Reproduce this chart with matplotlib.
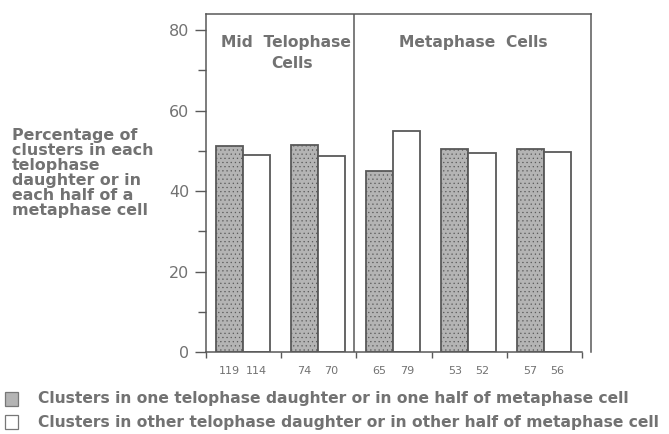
import matplotlib.pyplot as plt
from matplotlib.patches import Rectangle
import numpy as np

# percentages per pair (one half / other half) and the cell counts under each bar
pct_one = [51.1, 51.4, 45.1, 50.5, 50.4]
pct_other = [48.9, 48.6, 54.9, 49.5, 49.6]
n_one = ["119", "74", "65", "53", "57"]
n_other = ["114", "70", "79", "52", "56"]

section_labels = ["Mid  Telophase", "Cells", "Metaphase  Cells"]
ylabel_text = ("Percentage of\nclusters in each\ntelophase\n"
               "daughter or in\neach half of a\nmetaphase cell")
legend_labels = [
    "Clusters in one telophase daughter or in one half of metaphase cell",
    "Clusters in other telophase daughter or in other half of metaphase cell",
]

ink = "#727272"
edge = "#595959"
gray_fill = "#b4b4b4"

plt.rcParams["font.family"] = "DejaVu Sans"
plt.rcParams["hatch.linewidth"] = 0.4
plt.rcParams["hatch.color"] = "#8c8c8c"

fig = plt.figure(figsize=(6.69, 4.34), dpi=100)
ax = fig.add_axes([206 / 669, 1 - 352 / 434, 385 / 669, 338 / 434])

x = np.arange(len(pct_one))
w = 0.36
x_one = x + 0.13
x_other = x_one + w

ax.bar(x_one, pct_one, width=w, align="edge", color=gray_fill,
       edgecolor=edge, linewidth=1.3, hatch="....", zorder=2)
ax.bar(x_other, pct_other, width=w, align="edge", color="white",
       edgecolor=edge, linewidth=1.3, zorder=2)

# counts below the bars
for xo, xt, a, b in zip(x_one, x_other, n_one, n_other):
    ax.text(xo + w / 2, -0.055, a, transform=ax.get_xaxis_transform(),
            ha="center", va="center", fontsize=8, color=ink)
    ax.text(xt + w / 2, -0.055, b, transform=ax.get_xaxis_transform(),
            ha="center", va="center", fontsize=8, color=ink)

# divider between telophase and metaphase groups
ax.axvline(1.97, color=edge, linewidth=1.1, zorder=1)

ax.text(1.06, 76.8, section_labels[0], ha="center", va="center",
        fontsize=11.2, fontweight="bold", color=ink)
ax.text(1.15, 71.8, section_labels[1], ha="center", va="center",
        fontsize=11.2, fontweight="bold", color=ink)
ax.text(3.56, 76.8, section_labels[2], ha="center", va="center",
        fontsize=11.2, fontweight="bold", color=ink)

ax.set_xlim(0, 5.12)
ax.set_ylim(0, 84)
ax.set_yticks([0, 20, 40, 60, 80])
ax.set_yticks([10, 30, 50, 70], minor=True)
ax.set_xticks(np.arange(0, 6))
ax.set_xticklabels([])
ax.tick_params(axis="y", which="major", length=8, width=1, color=edge,
               labelsize=11.5, labelcolor=ink, pad=4)
ax.tick_params(axis="y", which="minor", length=6, width=1, color=edge)
ax.tick_params(axis="x", length=4, width=1, color=edge)

for side in ["left", "top", "right", "bottom"]:
    ax.spines[side].set_color(edge)
    ax.spines[side].set_linewidth(1.1)
ax.spines["bottom"].set_bounds(0, 5)

fig.text(12 / 669, 1 - 128 / 434, ylabel_text, ha="left", va="top",
         fontsize=11.4, fontweight="bold", color=ink, linespacing=1.0)

# legend drawn by hand along the bottom
for i, (lab, fc) in enumerate(zip(legend_labels, [gray_fill, "white"])):
    y_top = 392 + i * 23
    fig.patches.append(Rectangle((5 / 669, 1 - (y_top + 14) / 434), 13 / 669, 14 / 434,
                                 transform=fig.transFigure, facecolor=fc,
                                 edgecolor="#777777", linewidth=0.9))
    fig.text(38 / 669, 1 - (y_top + 7) / 434, lab, ha="left", va="center",
             fontsize=11.2, fontweight="bold", color=ink)

fig.savefig("out.png", dpi=100)
